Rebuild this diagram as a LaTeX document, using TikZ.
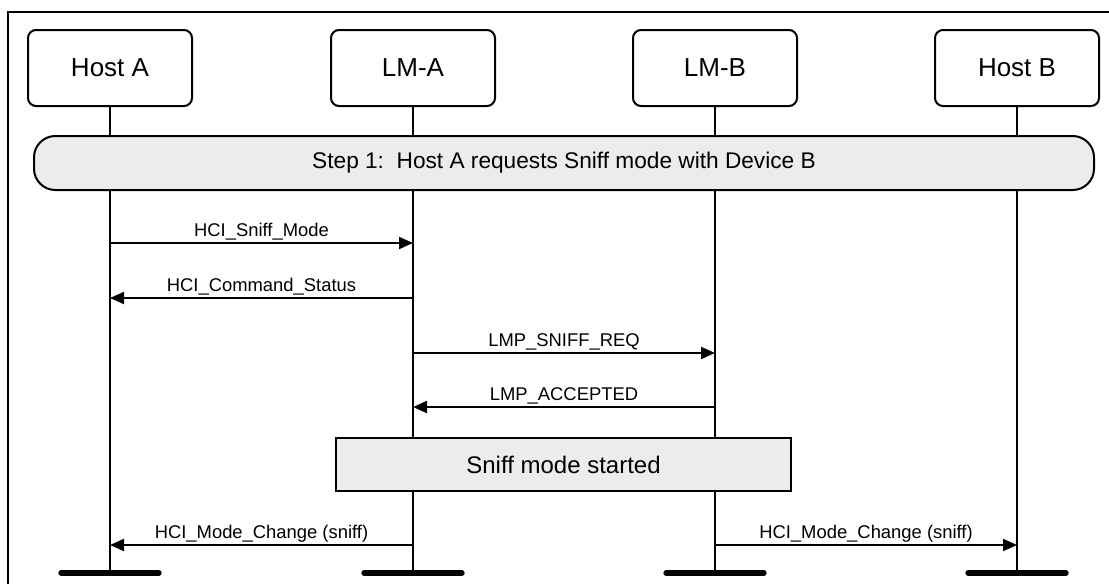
\documentclass[tikz,border=0pt]{standalone}
\usepackage{fontspec}
\setmainfont{Liberation Sans}
\usetikzlibrary{arrows.meta,positioning,calc}
\definecolor{boxgray}{RGB}{236,236,236}

\begin{document}
\begin{tikzpicture}[x=0.75pt, y=-0.75pt,
    entity/.style={draw, line width=1.5pt, rounded corners=6pt, minimum width=123pt, minimum height=57pt, font=\fontsize{19.5}{23}\selectfont},
    stepbox/.style={draw, line width=1.5pt, fill=boxgray, rounded corners=16pt, minimum width=795pt, minimum height=40.5pt, font=\fontsize{17}{20}\selectfont},
    statebox/.style={draw, line width=1.5pt, fill=boxgray, minimum width=341pt, minimum height=40pt, font=\fontsize{18}{21}\selectfont},
    life/.style={line width=1.5pt},
    msg/.style={line width=1.5pt, -{Triangle[length=10.5pt,width=9pt]}},
    lbl/.style={above=4.5pt, inner sep=0pt, text depth=0pt, font=\fontsize{13.8}{16}\selectfont},
    bar/.style={line width=4pt, line cap=round}]
    \useasboundingbox (0,0) rectangle (1109,583);

    % Frame (only top and left edge are in view)
    \draw[line width=1.5pt] (8,600) -- (8,12) -- (1120,12);

    % Header boxes
    \node[entity] (hostA) at (110,68) {Host A};
    \node[entity] (lmA) at (413,68) {LM-A};
    \node[entity] (lmB) at (715,68) {LM-B};
    \node[entity] (hostB) at (1017,68) {Host B};

    % Message rows
    \coordinate (r1) at (0,243);
    \coordinate (r2) at (0,298);
    \coordinate (r3) at (0,353);
    \coordinate (r4) at (0,407);
    \coordinate (r5) at (0,545);
    \coordinate (bot) at (0,573);

    % Lifelines and end bars
    \foreach \n in {hostA,lmA,lmB,hostB} {
        \draw[life] (\n.south) -- (\n |- bot);
        \draw[bar] (\n |- bot) ++(-49,0) -- ++(98,0);
    }

    % Step banner
    \node[stepbox] (step) at (564,163) {Step 1:\ \ Host A requests Sniff mode with Device B};

    % Messages
    \draw[msg] (hostA |- r1) -- node[lbl] {HCI\_Sniff\_Mode} (lmA |- r1);
    \draw[msg] (lmA |- r2) -- node[lbl] {HCI\_Command\_Status} (hostA |- r2);
    \draw[msg] (lmA |- r3) -- node[lbl] {LMP\_SNIFF\_REQ} (lmB |- r3);
    \draw[msg] (lmB |- r4) -- node[lbl] {LMP\_ACCEPTED} (lmA |- r4);

    % State box
    \node[statebox] (sniff) at (563.5,464.5) {Sniff mode started};

    % Mode change events
    \draw[msg] (lmA |- r5) -- node[lbl] {HCI\_Mode\_Change (sniff)} (hostA |- r5);
    \draw[msg] (lmB |- r5) -- node[lbl] {HCI\_Mode\_Change (sniff)} (hostB |- r5);
\end{tikzpicture}
\end{document}
